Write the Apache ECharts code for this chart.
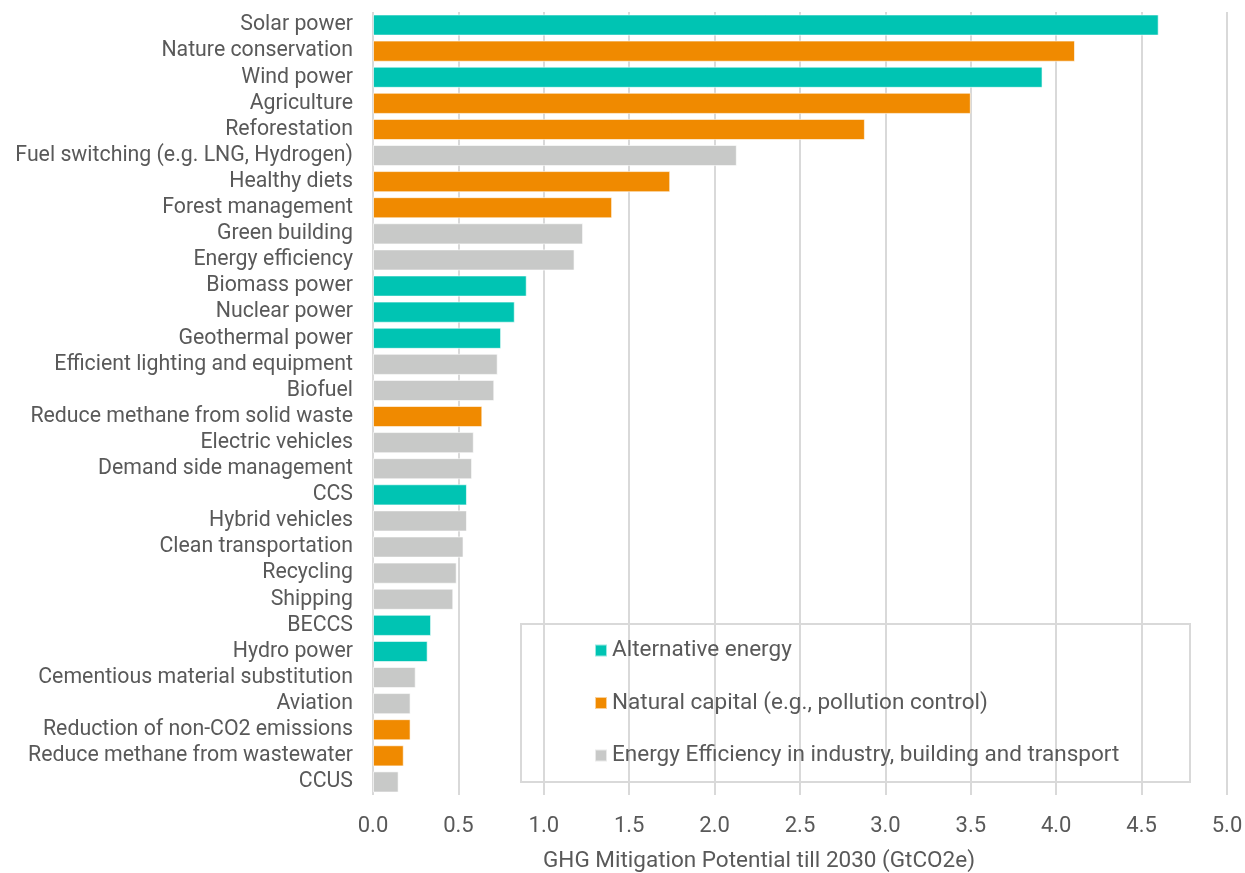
<!DOCTYPE html>
<html>
<head>
<meta charset="utf-8">
<script src="https://cdn.jsdelivr.net/npm/echarts@6/dist/echarts.min.js"></script>
<style>
  html, body { margin: 0; padding: 0; background: #ffffff; }
  #chart { width: 1245px; height: 873px; }
</style>
</head>
<body>
<div id="chart"></div>
<script>
// Mitigation options, ordered from largest to smallest potential
const categories = [
  'Solar power', 'Nature conservation', 'Wind power', 'Agriculture', 'Reforestation',
  'Fuel switching (e.g. LNG, Hydrogen)', 'Healthy diets', 'Forest management',
  'Green building', 'Energy efficiency', 'Biomass power', 'Nuclear power',
  'Geothermal power', 'Efficient lighting and equipment', 'Biofuel',
  'Reduce methane from solid waste', 'Electric vehicles', 'Demand side management',
  'CCS', 'Hybrid vehicles', 'Clean transportation', 'Recycling', 'Shipping',
  'BECCS', 'Hydro power', 'Cementious material substitution', 'Aviation',
  'Reduction of non-CO2 emissions', 'Reduce methane from wastewater', 'CCUS'
];

// GHG mitigation potential till 2030 (GtCO2e)
const values = [
  4.60, 4.11, 3.92, 3.50, 2.88,
  2.13, 1.74, 1.40,
  1.23, 1.18, 0.90, 0.83,
  0.75, 0.73, 0.71,
  0.64, 0.59, 0.58,
  0.55, 0.55, 0.53, 0.49, 0.47,
  0.34, 0.32, 0.25, 0.22,
  0.22, 0.18, 0.15
];

// Group of each option: A = alternative energy, N = natural capital, E = energy efficiency
const groups = [
  'A', 'N', 'A', 'N', 'N',
  'E', 'N', 'N',
  'E', 'E', 'A', 'A',
  'A', 'E', 'E',
  'N', 'E', 'E',
  'A', 'E', 'E', 'E', 'E',
  'A', 'A', 'E', 'E',
  'N', 'N', 'E'
];

const groupNames = {
  A: 'Alternative energy',
  N: 'Natural capital (e.g., pollution control)',
  E: 'Energy Efficiency in industry, building and transport'
};
const groupColors = { A: '#00C4B3', N: '#F08A00', E: '#C8C9C8' };

const xTicks = { min: 0, max: 5, interval: 0.5 };
const xAxisTitle = 'GHG Mitigation Potential till 2030 (GtCO2e)';

const textColor = '#595959';
const fontFamily = 'Roboto, "Open Sans", sans-serif';

function seriesFor(key) {
  return {
    name: groupNames[key],
    type: 'bar',
    stack: 'all',
    barCategoryGap: '19%',
    itemStyle: { color: groupColors[key], borderColor: 'rgba(255,255,255,0.6)', borderWidth: 1 },
    data: values.map((v, i) => (groups[i] === key ? v : '-')),
    animation: false
  };
}

const chart = echarts.init(document.getElementById('chart'), null, { renderer: 'canvas' });

chart.setOption({
  backgroundColor: '#ffffff',
  textStyle: { fontFamily: fontFamily, color: textColor },
  grid: { left: 373, right: 18, top: 12, bottom: 78, containLabel: false, outerBoundsMode: 'none' },
  xAxis: {
    type: 'value',
    min: xTicks.min,
    max: xTicks.max,
    interval: xTicks.interval,
    axisLine: { show: false },
    axisTick: { show: false },
    splitLine: { show: true, lineStyle: { color: '#D9D9D9', width: 2 } },
    axisLabel: {
      color: textColor, fontSize: 22, fontFamily: fontFamily, margin: 20,
      formatter: v => v.toFixed(1)
    },
    name: xAxisTitle,
    nameLocation: 'middle',
    nameGap: 55,
    nameTextStyle: { color: textColor, fontSize: 22.5, fontFamily: fontFamily, padding: [0, 82, 0, 0] }
  },
  yAxis: {
    type: 'category',
    data: categories,
    inverse: true,
    axisLine: { show: false },
    axisTick: { show: false },
    splitLine: { show: false },
    axisLabel: {
      interval: 0, hideOverlap: false,
      color: textColor, fontSize: 21.3, lineHeight: 22, fontFamily: fontFamily, margin: 20,
      padding: [4, 0, 0, 0]
    }
  },
  legend: {
    orient: 'vertical',
    left: 589,
    top: 634,
    itemWidth: 12,
    itemHeight: 12,
    itemGap: 29.5,
    icon: 'rect',
    textStyle: { color: textColor, fontSize: 22.5, fontFamily: fontFamily, lineHeight: 23 },
    data: ['A', 'N', 'E'].map(k => groupNames[k])
  },
  graphic: [{
    type: 'rect',
    left: 520,
    top: 623,
    z: 0,
    shape: { width: 669, height: 158 },
    style: { fill: '#ffffff', stroke: '#D9D9D9', lineWidth: 2 }
  }],
  series: ['A', 'N', 'E'].map(seriesFor)
});
</script>
</body>
</html>
